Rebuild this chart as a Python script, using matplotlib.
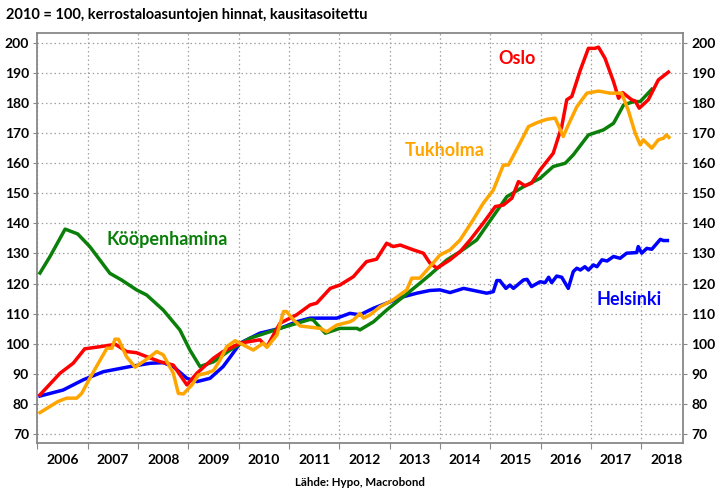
import matplotlib
matplotlib.use("Agg")
import matplotlib.pyplot as plt
from matplotlib.ticker import FixedLocator, NullFormatter, FixedFormatter

# ---- data (decimal years, index 2010 = 100) ----
hel_x = [2006.05, 2006.51, 2006.91, 2007.31, 2007.84, 2008.24, 2008.50, 2008.70, 2008.97, 2009.17,
         2009.43, 2009.69, 2009.85, 2010.03, 2010.42, 2010.82, 2011.15, 2011.42, 2011.95, 2012.21,
         2012.41, 2012.68, 2012.94, 2013.27, 2013.54, 2013.80, 2014.00, 2014.20, 2014.47, 2014.93,
         2015.06, 2015.13, 2015.19, 2015.31, 2015.39, 2015.46, 2015.66, 2015.73, 2015.82, 2015.99,
         2016.09, 2016.16, 2016.22, 2016.32, 2016.42, 2016.55, 2016.65, 2016.72, 2016.79, 2016.88,
         2016.95, 2017.05, 2017.12, 2017.22, 2017.32, 2017.45, 2017.58, 2017.71, 2017.91, 2017.94,
         2018.01, 2018.11, 2018.21, 2018.38, 2018.44, 2018.52]
hel_y = [82.6, 84.6, 88.0, 90.7, 92.4, 93.5, 93.7, 92.4, 88.5, 87.4,
         88.5, 92.4, 96.0, 100.2, 103.5, 105.1, 107.3, 108.5, 108.5, 110.1,
         109.6, 111.8, 113.5, 115.6, 116.8, 117.7, 117.9, 117.0, 118.4, 116.8,
         117.3, 121.0, 121.0, 118.4, 119.5, 118.4, 121.2, 121.4, 119.0, 120.6,
         120.3, 122.1, 120.3, 122.5, 122.1, 118.4, 124.0, 125.1, 124.5, 125.6,
         124.5, 126.2, 125.6, 127.9, 127.5, 129.0, 128.4, 130.1, 130.3, 132.3,
         130.1, 131.7, 131.4, 134.7, 134.3, 134.3]

cph_x = [2006.05, 2006.25, 2006.55, 2006.80, 2007.04, 2007.44, 2007.67, 2007.97, 2008.17, 2008.50,
         2008.83, 2009.03, 2009.23, 2009.50, 2009.83, 2010.22, 2010.82, 2011.42, 2011.48, 2011.72,
         2012.01, 2012.35, 2012.41, 2012.68, 2012.94, 2013.27, 2013.60, 2013.80, 2014.14, 2014.40,
         2014.73, 2015.33, 2015.66, 2015.99, 2016.25, 2016.49, 2016.65, 2016.95, 2017.25, 2017.45,
         2017.65, 2017.85, 2017.98, 2018.21]
cph_y = [123.5, 129.0, 138.1, 136.5, 132.3, 123.4, 121.2, 117.9, 116.2, 111.2,
         104.6, 97.9, 92.4, 94.0, 97.9, 101.8, 105.1, 108.1, 107.9, 103.5,
         105.1, 105.1, 104.6, 107.3, 111.2, 115.6, 120.1, 122.9, 127.9, 130.6,
         134.5, 148.9, 152.2, 155.0, 158.9, 160.0, 162.8, 169.4, 171.1, 173.3,
         179.4, 180.5, 180.5, 184.6]

osl_x = [2006.05, 2006.45, 2006.71, 2006.94, 2007.24, 2007.55, 2007.77, 2007.97, 2008.17, 2008.44,
         2008.70, 2008.97, 2009.17, 2009.50, 2009.69, 2010.03, 2010.42, 2010.56, 2010.82, 2011.15,
         2011.42, 2011.55, 2011.82, 2012.01, 2012.28, 2012.54, 2012.74, 2012.94, 2013.07, 2013.21,
         2013.47, 2013.67, 2013.80, 2013.94, 2014.20, 2014.40, 2014.60, 2014.86, 2015.10, 2015.26,
         2015.43, 2015.56, 2015.69, 2015.82, 2015.99, 2016.25, 2016.42, 2016.52, 2016.62, 2016.79,
         2016.95, 2017.08, 2017.15, 2017.28, 2017.45, 2017.55, 2017.63, 2017.81, 2017.88, 2017.96,
         2018.14, 2018.34, 2018.54]
osl_y = [83.0, 90.2, 93.5, 98.3, 99.0, 99.8, 97.4, 97.0, 95.7, 94.0,
         92.9, 86.3, 90.2, 95.2, 97.4, 100.2, 101.3, 99.0, 106.8, 109.6,
         112.9, 113.5, 118.4, 119.5, 122.3, 127.3, 128.1, 133.4, 132.3, 132.8,
         131.2, 130.1, 126.8, 125.1, 127.9, 130.6, 134.5, 140.1, 145.6, 146.1,
         148.4, 153.9, 152.5, 153.4, 157.8, 163.3, 172.2, 181.1, 182.2, 191.0,
         198.2, 198.2, 198.6, 194.9, 187.1, 181.6, 183.5, 181.1, 180.7, 178.3,
         181.1, 187.7, 190.3]

sto_x = [2006.05, 2006.41, 2006.58, 2006.78, 2006.88, 2007.04, 2007.21, 2007.38, 2007.48, 2007.54,
         2007.61, 2007.77, 2007.94, 2008.10, 2008.24, 2008.37, 2008.50, 2008.70, 2008.80, 2008.90,
         2009.07, 2009.20, 2009.36, 2009.50, 2009.63, 2009.76, 2009.93, 2010.09, 2010.29, 2010.49,
         2010.56, 2010.76, 2010.89, 2010.95, 2011.09, 2011.22, 2011.42, 2011.62, 2011.75, 2011.95,
         2012.21, 2012.28, 2012.41, 2012.48, 2012.61, 2012.81, 2013.07, 2013.34, 2013.44, 2013.60,
         2013.80, 2014.00, 2014.20, 2014.40, 2014.66, 2014.86, 2015.06, 2015.26, 2015.36, 2015.59,
         2015.76, 2015.93, 2016.12, 2016.29, 2016.45, 2016.55, 2016.72, 2016.92, 2017.15, 2017.38,
         2017.61, 2017.74, 2017.88, 2017.98, 2018.04, 2018.21, 2018.34, 2018.44, 2018.50, 2018.55]
sto_y = [77.1, 80.8, 81.9, 81.9, 83.5, 88.5, 93.5, 98.5, 98.5, 101.5,
         101.5, 95.7, 92.2, 94.0, 95.7, 97.4, 96.3, 90.2, 83.5, 83.3,
         86.3, 89.6, 90.2, 91.1, 94.6, 99.0, 101.0, 99.6, 97.9, 100.2,
         98.8, 102.9, 110.7, 110.7, 107.9, 105.9, 105.5, 105.1, 104.0, 106.2,
         107.3, 107.9, 110.1, 108.5, 109.6, 112.3, 114.6, 117.9, 121.8, 121.8,
         125.6, 129.5, 131.2, 134.5, 141.2, 146.7, 151.1, 159.4, 159.4, 166.7,
         172.2, 173.5, 174.6, 175.0, 168.9, 172.7, 178.8, 183.3, 184.0, 183.3,
         183.3, 177.7, 170.0, 166.1, 167.8, 165.0, 167.8, 168.3, 169.4, 168.6]

years = [2006, 2007, 2008, 2009, 2010, 2011, 2012, 2013, 2014, 2015, 2016, 2017, 2018]
yticks = [70, 80, 90, 100, 110, 120, 130, 140, 150, 160, 170, 180, 190, 200]

FONT = "Lato"
plt.rcParams['font.family'] = [FONT, 'DejaVu Sans']

fig = plt.figure(figsize=(7.2, 4.97), dpi=100)
ax = fig.add_axes([0.052, 0.1087, 0.8966, 0.8249])

lw = 2.5
ax.plot(hel_x, hel_y, color='#0000FF', lw=lw, solid_joinstyle='round', zorder=3)
ax.plot(cph_x, cph_y, color='#0A800A', lw=lw, solid_joinstyle='round', zorder=4)
ax.plot(osl_x, osl_y, color='#FF0000', lw=lw, solid_joinstyle='round', zorder=5)
ax.plot(sto_x, sto_y, color='#FFA500', lw=lw, solid_joinstyle='round', zorder=6)

ax.set_xlim(2006.0, 2018.83)
ax.set_ylim(67.0, 203.3)

ax.xaxis.set_major_locator(FixedLocator(years))
ax.xaxis.set_major_formatter(NullFormatter())
ax.xaxis.set_minor_locator(FixedLocator([y + 0.5 for y in years]))
ax.xaxis.set_minor_formatter(FixedFormatter([str(y) for y in years]))
ax.tick_params(axis='x', which='minor', length=0, pad=8, labelsize=10)
ax.tick_params(axis='x', which='major', length=4, color='#888888', direction='out')
for lab in ax.get_xticklabels(minor=True):
    lab.set_fontweight('bold')

ax.set_yticks(yticks)
ax.tick_params(axis='y', which='major', length=3, color='#888888', labelsize=10,
               left=True, right=True, labelleft=True, labelright=True, pad=3)
for t in ax.yaxis.get_major_ticks():
    t.label2.set_fontweight('bold')
    t.label1.set_fontweight('bold')

ax.grid(True, which='major', color='#A0A0A0', linestyle=(0, (1.2, 2.2)), linewidth=0.9)
for s in ax.spines.values():
    s.set_color('#888888')
    s.set_linewidth(1.3)

lab_fs = 13
ax.text(2015.53, 194.7, 'Oslo', color='#FF0000', fontsize=lab_fs, fontweight='bold', ha='center', va='center')
ax.text(2014.1, 164.4, 'Tukholma', color='#FFA500', fontsize=lab_fs, fontweight='bold', ha='center', va='center')
ax.text(2008.57, 134.7, 'Kööpenhamina', color='#0A800A', fontsize=lab_fs, fontweight='bold', ha='center', va='center')
ax.text(2017.75, 114.8, 'Helsinki', color='#0000FF', fontsize=lab_fs, fontweight='bold', ha='center', va='center')

fig.text(6 / 720, 1 - 15 / 497, '2010 = 100, kerrostaloasuntojen hinnat, kausitasoitettu',
         fontsize=10.5, fontweight='bold', ha='left', va='center')
fig.text(0.5, 1 - 483 / 497, 'Lähde: Hypo, Macrobond', fontsize=8.3, fontweight='bold',
         ha='center', va='center')

fig.savefig('out.png', dpi=100)
